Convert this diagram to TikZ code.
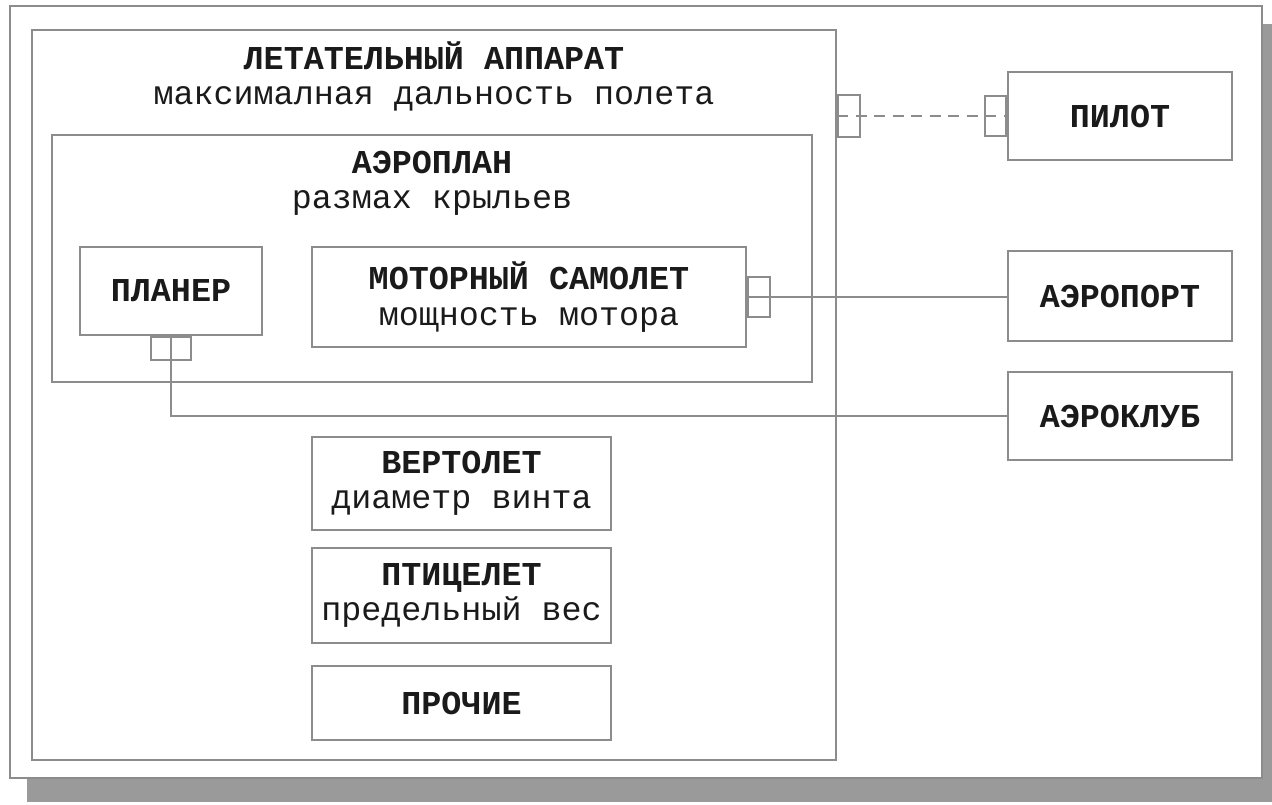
\documentclass[tikz,border=0pt]{standalone}
\usepackage{fontspec}
\setmainfont{Liberation Mono}
\definecolor{linegray}{HTML}{8C8C8C}
\definecolor{shadowgray}{HTML}{9A9A9A}
\definecolor{textgray}{HTML}{1A1A1A}

\begin{document}
\begin{tikzpicture}[x=0.02cm,y=-0.02cm,
    box/.style={draw=linegray,line width=1.3pt,rectangle,inner sep=0pt},
    caption/.style={align=center,text=textgray,font=\fontsize{19}{20}\selectfont},
    port/.style={draw=linegray,line width=1.3pt,rectangle,inner sep=0pt},
    link/.style={draw=linegray,line width=1.3pt}]

\useasboundingbox (0,0) rectangle (1272,805);

% Draw the shadow and the frame
\fill[shadowgray] (27,24) rectangle (1272,802);
\draw[linegray,line width=1.3pt,fill=white] (10,6) rectangle (1262,778);

% Draw the containers
\node[box,minimum width=16.08cm,minimum height=14.6cm] (aircraft) at (434,395) {};
\node[caption] (aircrafttext) at (434,76) {\textbf{ЛЕТАТЕЛЬНЫЙ АППАРАТ}\\максималная дальность полета};
\node[box,minimum width=15.2cm,minimum height=4.94cm] (airplane) at (432,258.5) {};
\node[caption] (airplanetext) at (432,183.5) {\textbf{АЭРОПЛАН}\\размах крыльев};

% Draw the inner boxes
\node[box,caption,minimum width=3.64cm,minimum height=1.76cm] (glider) at (171,291) {\textbf{ПЛАНЕР}};
\node[box,caption,minimum width=8.68cm,minimum height=2cm] (motor) at (529,297) {\textbf{МОТОРНЫЙ САМОЛЕТ}\\мощность мотора};
\node[box,caption,minimum width=5.98cm,minimum height=1.86cm] (heli) at (461.5,483.5) {\textbf{ВЕРТОЛЕТ}\\диаметр винта};
\node[box,caption,minimum width=5.98cm,minimum height=1.9cm] (bird) at (461.5,595.5) {\textbf{ПТИЦЕЛЕТ}\\предельный вес};
\node[box,caption,minimum width=5.98cm,minimum height=1.48cm] (other) at (461.5,703) {\textbf{ПРОЧИЕ}};

% Draw the outside boxes
\node[box,caption,minimum width=4.48cm,minimum height=1.76cm] (pilot) at (1120,116) {\textbf{ПИЛОТ}};
\node[box,caption,minimum width=4.48cm,minimum height=1.8cm] (airport) at (1120,296) {\textbf{АЭРОПОРТ}};
\node[box,caption,minimum width=4.48cm,minimum height=1.76cm] (club) at (1120,416) {\textbf{АЭРОКЛУБ}};

% Draw the ports
\node[port,anchor=west,minimum width=0.44cm,minimum height=0.84cm] (aircraftport) at (aircraft.east |- pilot.west) {};
\node[port,anchor=east,minimum width=0.42cm,minimum height=0.8cm] (pilotport) at (pilot.west) {};
\node[port,anchor=west,minimum width=0.44cm,minimum height=0.8cm] (motorport) at (motor.east) {};
\node[port,anchor=north,minimum width=0.8cm,minimum height=0.46cm] (gliderport) at (glider.south) {};

% Draw the links
\draw[link,dash pattern=on 0.22cm off 0.15cm] (aircraftport.west) -- (pilot.west);
\draw[link] (motor.east) -- (motor.east -| airport.west);
\draw[link] (glider.south) |- (club.west);

\end{tikzpicture}
\end{document}
